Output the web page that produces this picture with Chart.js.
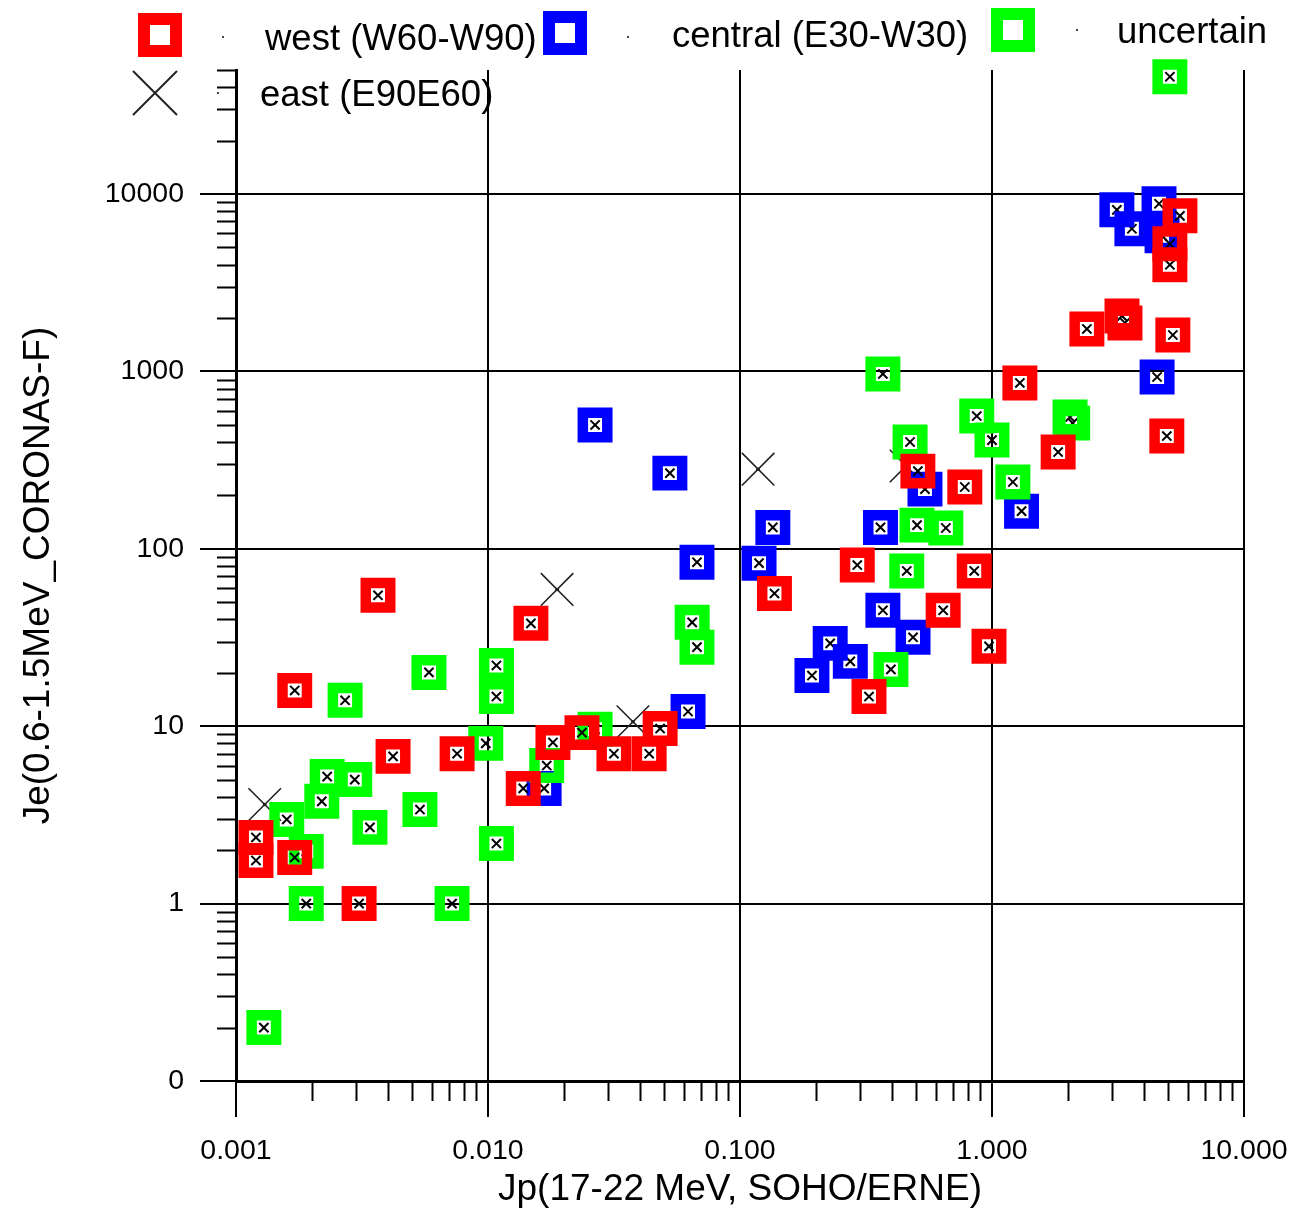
<!DOCTYPE html>
<html>
<head>
<meta charset="utf-8">
<script src="https://cdn.jsdelivr.net/npm/chart.js@4/dist/chart.umd.min.js"></script>
<style>
  body { margin: 0; background: #fff; }
  #wrap { position: relative; width: 1297px; height: 1218px; overflow: hidden; }
  #chart { position: absolute; left: 0; top: 0; }
  .lg-text { position: absolute; font-family: 'Liberation Sans', Arial, sans-serif; font-size: 36.5px; line-height: 40px; color: #000; white-space: nowrap; }
  .lg-box { position: absolute; width: 44px; height: 44px; box-sizing: border-box; border: 12px solid; }
  .lg-dot { position: absolute; width: 2px; height: 2px; background: #444; }
  .lg-x { position: absolute; width: 46px; height: 46px; }
</style>
</head>
<body>
<div id="wrap">
  <canvas id="chart" width="1297" height="1218"></canvas>
  <div id="legend"></div>
</div>
<script>
// Jp (x) and Je (y), one pair of arrays per source region
const west_jp = [0.0012, 0.0012, 0.00171, 0.00171, 0.00366, 0.00308, 0.0042, 0.00754, 0.0148, 0.0138,
  0.0181, 0.0236, 0.0316, 0.0436, 0.0482, 0.137, 0.292, 0.325, 0.508, 0.64,
  0.78, 0.85, 0.973, 1.29, 1.83, 2.38, 3.28, 3.37, 5.22, 4.94,
  5.57, 5.08, 5.08]
const west_je = [2.36, 1.75, 1.82, 15.9, 54.7, 1.0, 6.76, 7.0, 38, 4.46,
  8.1, 9.2, 7.0, 7.0, 9.7, 56, 81, 14.7, 274, 45,
  223, 75, 28.2, 861, 351, 1735, 2055, 1875, 1604, 432,
  7530, 5240, 3990]

const central_jp = [0.0167, 0.0266, 0.0527, 0.0675, 0.0622, 0.119, 0.135, 0.193, 0.228, 0.274,
  0.361, 0.369, 0.486, 0.542, 1.31, 3.13, 3.59, 4.6, 4.73, 4.52]
const central_je = [4.46, 499, 267, 84, 12.1, 83, 132, 19.3, 29.3, 23.2,
  132, 45, 31.7, 217, 163, 8140, 6370, 8810, 5810, 930]

const uncertain_jp = [0.00129, 0.00159, 0.0019, 0.0019, 0.00219, 0.0023, 0.00296, 0.0034, 0.00271, 0.00537,
  0.00583, 0.0072, 0.0098, 0.0108, 0.0108, 0.0108, 0.0171, 0.0266, 0.0646, 0.0675,
  0.369, 0.397, 0.459, 0.473, 0.504, 0.656, 0.87, 1.0, 1.21, 2.04,
  2.09, 5.08]
const uncertain_je = [0.2, 2.98, 1.97, 1.0, 3.77, 5.2, 5.0, 2.69, 14.0, 3.39,
  20.1, 1.0, 8.0, 22.0, 14.7, 2.18, 6.0, 9.6, 38.5, 27.9,
  967, 20.9, 75, 400, 136, 131, 560, 410, 238, 553,
  511, 45800]

const east_jp = [0.0013, 0.0188, 0.0376, 0.118, 0.456]
const east_je = [3.62, 59, 10.6, 281, 293]

const x_ticks = [0.001, 0.01, 0.1, 1, 10]
const x_tick_labels = ['0.001', '0.010', '0.100', '1.000', '10.000']
const y_ticks = [0.1, 1, 10, 100, 1000, 10000]
const y_tick_labels = ['0', '1', '10', '100', '1000', '10000']

const labels = ['west (W60-W90)', 'central (E30-W30)', 'uncertain', 'east (E90E60)']

const RED = '#ff0000'
const BLUE = '#0000ff'
const GREEN = '#00ff00'
const FONT = "'Liberation Sans', Arial, sans-serif"

const to_points = (xs, ys) => xs.map((x, i) => ({x: x, y: ys[i]}))

// hollow thick square, the main marker of each region
function square_set(label, xs, ys, color, order) {
  return {
    label: label,
    data: to_points(xs, ys),
    order: order,
    showLine: false,
    clip: false,
    pointStyle: 'rect',
    pointRadius: 17.3,
    pointHoverRadius: 17.3,
    pointBorderWidth: 10.5,
    pointHoverBorderWidth: 10.5,
    pointBorderColor: color,
    pointBackgroundColor: 'rgba(0,0,0,0)'
  }
}

// small black cross drawn inside each square
function inner_set(label, xs, ys, order) {
  return {
    label: label,
    data: to_points(xs, ys),
    order: order,
    showLine: false,
    clip: false,
    pointStyle: 'crossRot',
    pointRadius: 6.5,
    pointHoverRadius: 6.5,
    pointBorderWidth: 2,
    pointBorderColor: '#000'
  }
}

const datasets = [
  square_set('', west_jp, west_je, RED, 1),
  inner_set(labels[0], west_jp, west_je, 2),
  square_set('', uncertain_jp, uncertain_je, GREEN, 3),
  inner_set(labels[2], uncertain_jp, uncertain_je, 4),
  square_set('', central_jp, central_je, BLUE, 5),
  inner_set(labels[1], central_jp, central_je, 6),
  {
    label: '',
    data: to_points(east_jp, east_je),
    order: 7,
    showLine: false,
    clip: false,
    pointStyle: 'crossRot',
    pointRadius: 23,
    pointHoverRadius: 23,
    pointBorderWidth: 1.6,
    pointBorderColor: '#222'
  },
  {
    label: labels[3],
    data: to_points(east_jp, east_je),
    order: 7,
    showLine: false,
    clip: false,
    pointStyle: 'circle',
    pointRadius: 1.8,
    pointBorderWidth: 0,
    pointBackgroundColor: '#000'
  }
]

// 2..9 times each decade, for the short ticks
function minor_values(decades, max) {
  const out = []
  decades.forEach(d => {
    for (let k = 2; k <= 9; k++) if (d * k <= max * 1.0001) out.push(d * k)
  })
  return out
}

const minor_ticks = {
  id: 'minor_ticks',
  afterDraw(chart) {
    const {ctx, scales} = chart
    const x = scales.x
    const y = scales.y
    ctx.save()
    ctx.strokeStyle = '#000'
    ctx.lineWidth = 2
    ctx.beginPath()
    minor_values(x_ticks, x.max).forEach(v => {
      const px = Math.round(x.getPixelForValue(v)) + 0.5
      ctx.moveTo(px, x.top)
      ctx.lineTo(px, x.top + 20)
    })
    minor_values(y_ticks, y.max).forEach(v => {
      const py = Math.round(y.getPixelForValue(v)) + 0.5
      ctx.moveTo(y.right, py)
      ctx.lineTo(y.right - 19, py)
    })
    ctx.stroke()
    ctx.restore()
  }
}

const tick_font = {family: FONT, size: 28.5}
const title_font = {family: FONT, size: 37}

new Chart(document.getElementById('chart'), {
  type: 'scatter',
  data: {datasets: datasets},
  plugins: [minor_ticks],
  options: {
    responsive: false,
    devicePixelRatio: 1,
    animation: false,
    events: [],
    layout: {padding: {top: 70, right: 53, left: 0, bottom: 0}},
    plugins: {legend: {display: false}, tooltip: {enabled: false}},
    scales: {
      x: {
        type: 'logarithmic',
        position: 'bottom',
        min: 0.001,
        max: 10,
        afterBuildTicks: s => { s.ticks = x_ticks.map(v => ({value: v})) },
        afterFit: s => { s.height = 137; s.paddingLeft = 0; s.paddingRight = 0 },
        border: {color: '#000', width: 3},
        grid: {color: '#000', lineWidth: 2, tickLength: 36, tickColor: '#000', tickWidth: 2},
        ticks: {
          autoSkip: false,
          maxRotation: 0,
          padding: 17,
          color: '#000',
          font: tick_font,
          callback: (v, i) => x_tick_labels[i]
        },
        title: {display: true, text: 'Jp(17-22 MeV, SOHO/ERNE)', color: '#000', font: title_font, padding: {top: 0, bottom: 6}}
      },
      y: {
        type: 'logarithmic',
        position: 'left',
        min: 0.1,
        max: 50000,
        afterBuildTicks: s => { s.ticks = y_ticks.map(v => ({value: v})) },
        afterFit: s => { s.width = 236; s.paddingTop = 0; s.paddingBottom = 0 },
        border: {color: '#000', width: 3},
        grid: {color: '#000', lineWidth: 2, tickLength: 36, tickColor: '#000', tickWidth: 2},
        ticks: {
          autoSkip: false,
          padding: 16,
          color: '#000',
          font: tick_font,
          callback: (v, i) => y_tick_labels[i]
        },
        title: {display: true, text: 'Je(0.6-1.5MeV_CORONAS-F)', color: '#000', font: title_font, padding: {top: 17, bottom: 0}}
      }
    }
  }
})

// legend laid out as in the original figure, over the top of the plot
const legend_layout = [
  {color: RED, box: [160, 35], dot: [223, 37], text: [265, 37]},
  {color: BLUE, box: [565, 33], dot: [628, 37], text: [672, 34]},
  {color: GREEN, box: [1013, 30], dot: [1077, 30], text: [1117, 30]},
  {color: null, box: [155, 93], dot: [218, 93], text: [260, 93]}
]

const legend = document.getElementById('legend')
legend_layout.forEach((item, i) => {
  if (item.color) {
    const box = document.createElement('div')
    box.className = 'lg-box'
    box.style.borderColor = item.color
    box.style.left = (item.box[0] - 22) + 'px'
    box.style.top = (item.box[1] - 22) + 'px'
    legend.appendChild(box)
  } else {
    const svg = document.createElementNS('http://www.w3.org/2000/svg', 'svg')
    svg.setAttribute('class', 'lg-x')
    svg.setAttribute('viewBox', '0 0 46 46')
    svg.style.left = (item.box[0] - 23) + 'px'
    svg.style.top = (item.box[1] - 23) + 'px'
    svg.innerHTML = '<path d="M1 1 L45 45 M45 1 L1 45" stroke="#222" stroke-width="2" fill="none"/>'
    legend.appendChild(svg)
  }
  const dot = document.createElement('div')
  dot.className = 'lg-dot'
  dot.style.left = (item.dot[0] - 1) + 'px'
  dot.style.top = (item.dot[1] - 1) + 'px'
  legend.appendChild(dot)

  const text = document.createElement('div')
  text.className = 'lg-text'
  text.textContent = labels[i]
  text.style.left = item.text[0] + 'px'
  text.style.top = (item.text[1] - 19) + 'px'
  legend.appendChild(text)
})
</script>
</body>
</html>
